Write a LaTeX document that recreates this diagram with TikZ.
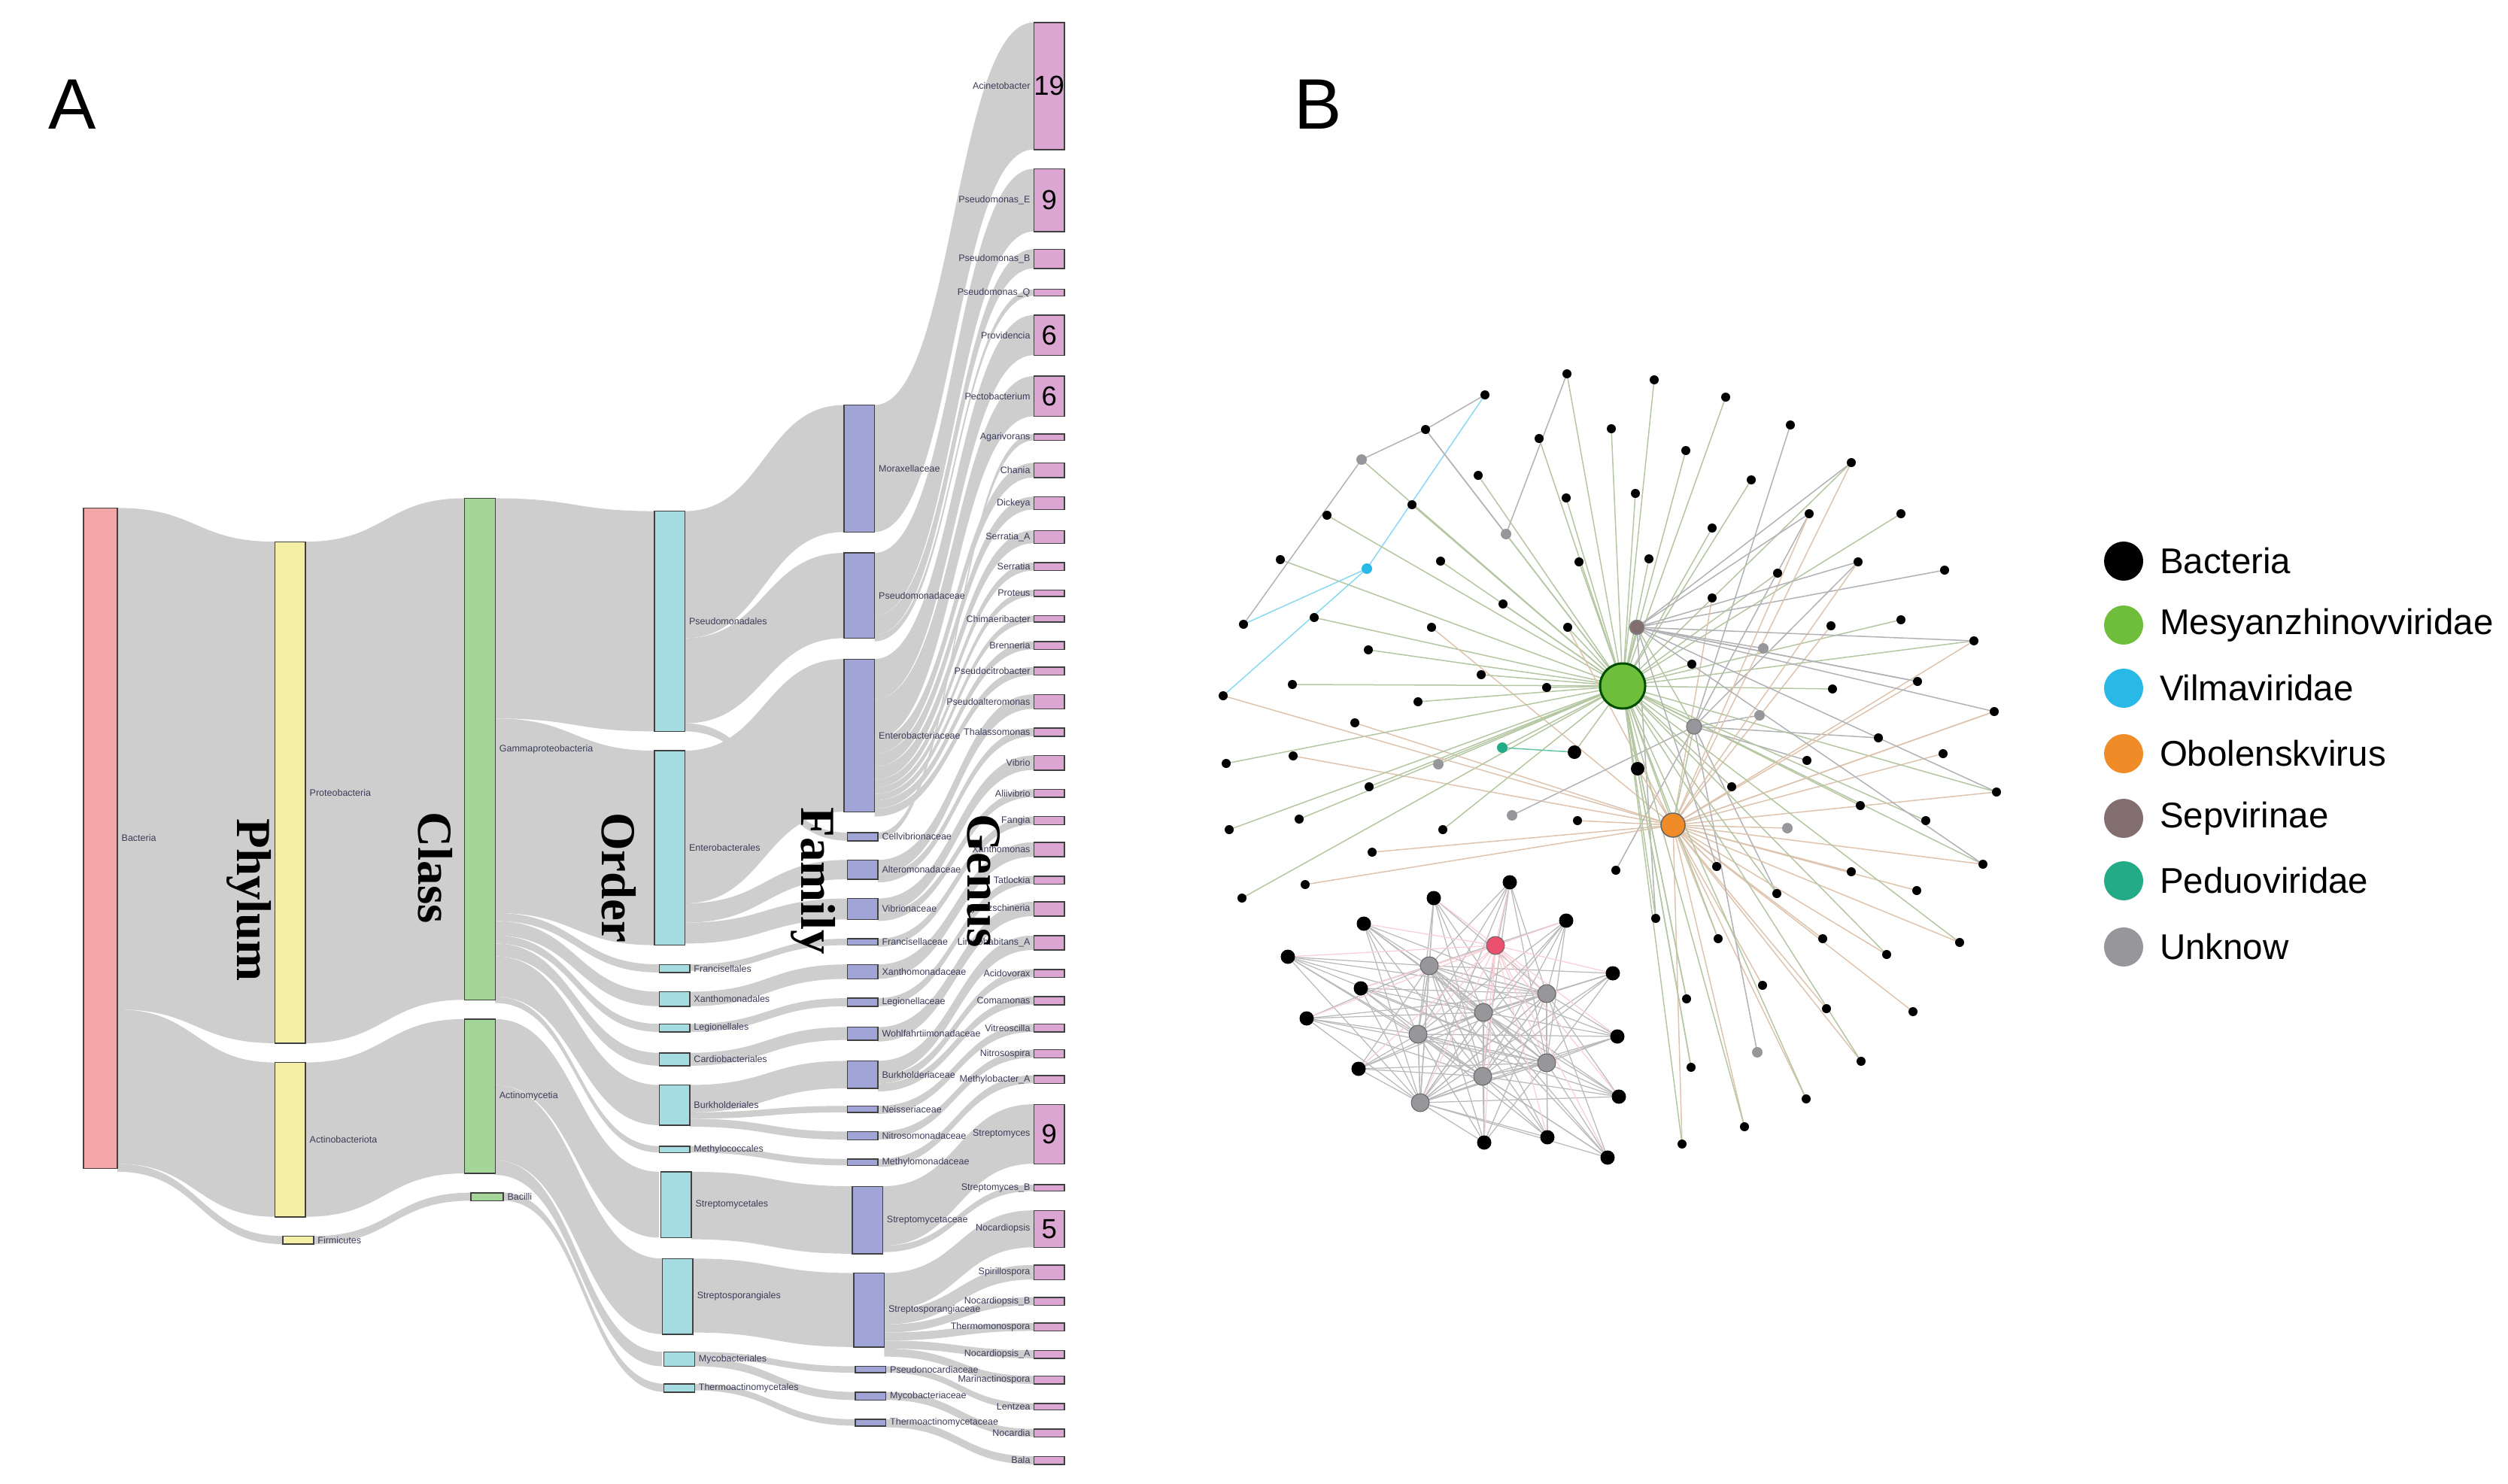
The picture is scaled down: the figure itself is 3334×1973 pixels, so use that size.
\documentclass[tikz,border=0pt]{standalone}
\usepackage{fontspec}
\setmainfont{Liberation Sans}
\newfontfamily\serifbig{Liberation Serif}
\usetikzlibrary{fit}
\definecolor{flowc}{RGB}{206,206,206}
\definecolor{cBac}{RGB}{242,166,166}
\definecolor{cPhy}{RGB}{243,240,165}
\definecolor{cCla}{RGB}{163,214,152}
\definecolor{cOrd}{RGB}{164,220,226}
\definecolor{cFam}{RGB}{160,164,214}
\definecolor{cGen}{RGB}{220,166,210}
\definecolor{labc}{RGB}{60,60,90}
\definecolor{mesy}{RGB}{110,190,60}
\definecolor{vilm}{RGB}{40,185,230}
\definecolor{obol}{RGB}{240,140,40}
\definecolor{sepv}{RGB}{130,110,110}
\definecolor{pedu}{RGB}{35,170,135}
\definecolor{unkn}{RGB}{150,150,155}
\definecolor{pinkn}{RGB}{235,80,110}
\definecolor{eg}{RGB}{180,198,162}
\definecolor{eo}{RGB}{222,196,175}
\definecolor{eh}{RGB}{178,178,182}
\newcommand\setsrc[2]{\xdef\SX{#1}\xdef\SY{#2}}
\newcommand\fl[3]{\pgfmathsetmacro\SYb{\SY+#3-#2}\pgfmathsetmacro\MX{(\SX+#1)/2}%
 \fill[flowc] (\SX,\SY) .. controls (\MX,\SY) and (\MX,#2) .. (#1,#2) -- (#1,#3) .. controls (\MX,#3) and (\MX,\SYb) .. (\SX,\SYb) -- cycle;\xdef\SY{\SYb}}
\newcommand\rbox[6]{\node[box,fill=#6,fit={(#2,#3)(#4,#5)}] (#1) {};}
\newcommand\rboxr[7]{\rbox{#1}{#2}{#3}{#4}{#5}{#6}\node[lab,anchor=west] at ({#4+1.5},{(#3+#5)/2}) {#7};}
\newcommand\gbox[4]{\rbox{#1}{643}{#2}{662}{#3}{cGen}\node[lab,anchor=east] at (642,{(#2+#3)/2}) {#4};}
\begin{document}
\begin{tikzpicture}[x=0.2pt,y=-0.2pt,
 box/.style={draw=black!75,line width=0.3pt,inner sep=0pt},
 lab/.style={font=\fontsize{2.5}{3}\selectfont,text=labc,inner sep=0.3pt},
 big/.style={font=\serifbig\bfseries\fontsize{13}{13}\selectfont,rotate=-90,inner sep=0pt},
 num/.style={font=\fontsize{7.3}{8}\selectfont,inner sep=0pt},
 panel/.style={font=\fontsize{19}{20}\selectfont,inner sep=0pt},
 edge/.style={line width=0.3pt},
 eG/.style={eg}, eO/.style={eo}, eS/.style={eh}, eH/.style={eh}, eC/.style={vilm!55},
 cl/.style={line width=0.25pt,black!27},
 cp/.style={line width=0.25pt,pinkn!28},
 leaf/.style={circle,fill=black,inner sep=0pt,minimum size=2.4pt},
 leg/.style={font=\fontsize{9.5}{11}\selectfont,anchor=west,inner sep=0pt}]
\useasboundingbox (0,0) rectangle (3334,1973);
\node[panel] (pA) at (96,139) {A};
\node[panel] (pB) at (1752,139) {B};
\begin{scope}[scale=2.137]
\setsrc{73}{316}
\fl{171}{337}{649}\fl{171}{661}{757}\fl{176}{769}{774}
\setsrc{190}{337}\fl{289}{310}{622}
\setsrc{190}{661}\fl{289}{634}{730}
\setsrc{195}{769}\fl{293}{742}{747}
\setsrc{308}{310}
\fl{407}{318}{455}\fl{407}{467}{588}\fl{410}{600}{605}\fl{410}{617}{626}\fl{410}{637}{642}\fl{410}{655}{663}\fl{410}{675}{700}\fl{410}{713}{717}
\setsrc{308}{634}
\fl{410}{729}{770}\fl{412}{783}{830}\fl{412}{841}{850}
\setsrc{313}{742}\fl{414}{861}{866}
\setsrc{426}{318}\fl{525}{252}{331}\fl{525}{344}{397}\fl{527}{518}{523}
\setsrc{426}{467}\fl{525}{410}{505}\fl{527}{535}{547}\fl{527}{559}{572}
\setsrc{429}{600}\fl{527}{584}{588}
\setsrc{429}{617}\fl{527}{600}{609}
\setsrc{429}{637}\fl{527}{621}{626}
\setsrc{429}{655}\fl{527}{639}{647}
\setsrc{429}{675}\fl{527}{660}{677}\fl{527}{688}{692}\fl{527}{704}{709}
\setsrc{429}{713}\fl{527}{721}{725}
\setsrc{430}{729}\fl{530}{738}{780}
\setsrc{431}{783}\fl{531}{792}{838}
\setsrc{432}{841}\fl{532}{850}{854}\fl{532}{866}{871}
\setsrc{432}{861}\fl{532}{883}{887}
\setsrc{544}{252}\fl{643}{14}{93}
\setsrc{544}{344}\fl{643}{105}{144}\fl{643}{155}{167}\fl{643}{180}{184}
\setsrc{544}{410}\fl{643}{196}{221}\fl{643}{234}{259}\fl{643}{288}{297}\fl{643}{309}{317}\fl{643}{330}{338}\fl{643}{350}{355}\fl{643}{367}{371}\fl{643}{383}{387}\fl{643}{399}{404}\fl{643}{415}{420}
\setsrc{546}{518}\fl{643}{270}{274}
\setsrc{546}{535}\fl{643}{432}{441}\fl{643}{453}{458}
\setsrc{546}{559}\fl{643}{470}{479}\fl{643}{491}{496}
\setsrc{546}{584}\fl{643}{508}{513}
\setsrc{546}{600}\fl{643}{524}{533}
\setsrc{546}{621}\fl{643}{545}{550}
\setsrc{546}{639}\fl{643}{561}{570}
\setsrc{546}{660}\fl{643}{582}{591}\fl{643}{603}{608}\fl{643}{620}{625}
\setsrc{546}{688}\fl{643}{637}{642}
\setsrc{546}{704}\fl{643}{653}{658}
\setsrc{546}{721}\fl{643}{669}{674}
\setsrc{549}{738}\fl{643}{687}{724}\fl{643}{737}{741}
\setsrc{550}{792}\fl{643}{753}{776}\fl{643}{787}{796}\fl{643}{807}{812}\fl{643}{823}{828}\fl{643}{840}{845}\fl{643}{856}{861}
\setsrc{551}{850}\fl{643}{873}{877}
\setsrc{551}{866}\fl{643}{889}{894}
\setsrc{551}{883}\fl{643}{906}{911}
\rboxr{bac}{52}{316}{73}{727}{cBac}{Bacteria}
\rboxr{p1}{171}{337}{190}{649}{cPhy}{Proteobacteria}
\rboxr{p2}{171}{661}{190}{757}{cPhy}{Actinobacteriota}
\rboxr{p3}{176}{769}{195}{774}{cPhy}{Firmicutes}
\rboxr{c1}{289}{310}{308}{622}{cCla}{Gammaproteobacteria}
\rboxr{c2}{289}{634}{308}{730}{cCla}{Actinomycetia}
\rboxr{c3}{293}{742}{313}{747}{cCla}{Bacilli}
\rboxr{o1}{407}{318}{426}{455}{cOrd}{Pseudomonadales}
\rboxr{o2}{407}{467}{426}{588}{cOrd}{Enterobacterales}
\rboxr{o3}{410}{600}{429}{605}{cOrd}{Francisellales}
\rboxr{o4}{410}{617}{429}{626}{cOrd}{Xanthomonadales}
\rboxr{o5}{410}{637}{429}{642}{cOrd}{Legionellales}
\rboxr{o6}{410}{655}{429}{663}{cOrd}{Cardiobacteriales}
\rboxr{o7}{410}{675}{429}{700}{cOrd}{Burkholderiales}
\rboxr{o8}{410}{713}{429}{717}{cOrd}{Methylococcales}
\rboxr{o9}{411}{729}{430}{770}{cOrd}{Streptomycetales}
\rboxr{o10}{412}{783}{431}{830}{cOrd}{Streptosporangiales}
\rboxr{o11}{413}{841}{432}{850}{cOrd}{Mycobacteriales}
\rboxr{o12}{413}{861}{432}{866}{cOrd}{Thermoactinomycetales}
\rboxr{f1}{525}{252}{544}{331}{cFam}{Moraxellaceae}
\rboxr{f2}{525}{344}{544}{397}{cFam}{Pseudomonadaceae}
\rboxr{f3}{525}{410}{544}{505}{cFam}{Enterobacteriaceae}
\rboxr{f4}{527}{518}{546}{523}{cFam}{Cellvibrionaceae}
\rboxr{f5}{527}{535}{546}{547}{cFam}{Alteromonadaceae}
\rboxr{f6}{527}{559}{546}{572}{cFam}{Vibrionaceae}
\rboxr{f7}{527}{584}{546}{588}{cFam}{Francisellaceae}
\rboxr{f8}{527}{600}{546}{609}{cFam}{Xanthomonadaceae}
\rboxr{f9}{527}{621}{546}{626}{cFam}{Legionellaceae}
\rboxr{f10}{527}{639}{546}{647}{cFam}{Wohlfahrtiimonadaceae}
\rboxr{f11}{527}{660}{546}{677}{cFam}{Burkholderiaceae}
\rboxr{f12}{527}{688}{546}{692}{cFam}{Neisseriaceae}
\rboxr{f13}{527}{704}{546}{709}{cFam}{Nitrosomonadaceae}
\rboxr{f14}{527}{721}{546}{725}{cFam}{Methylomonadaceae}
\rboxr{f15}{530}{738}{549}{780}{cFam}{Streptomycetaceae}
\rboxr{f16}{531}{792}{550}{838}{cFam}{Streptosporangiaceae}
\rboxr{f17}{532}{850}{551}{854}{cFam}{Pseudonocardiaceae}
\rboxr{f18}{532}{866}{551}{871}{cFam}{Mycobacteriaceae}
\rboxr{f19}{532}{883}{551}{887}{cFam}{Thermoactinomycetaceae}
\gbox{g1}{14}{93}{Acinetobacter}
\gbox{g2}{105}{144}{Pseudomonas\_E}
\gbox{g3}{155}{167}{Pseudomonas\_B}
\gbox{g4}{180}{184}{Pseudomonas\_Q}
\gbox{g5}{196}{221}{Providencia}
\gbox{g6}{234}{259}{Pectobacterium}
\gbox{g7}{270}{274}{Agarivorans}
\gbox{g8}{288}{297}{Chania}
\gbox{g9}{309}{317}{Dickeya}
\gbox{g10}{330}{338}{Serratia\_A}
\gbox{g11}{350}{355}{Serratia}
\gbox{g12}{367}{371}{Proteus}
\gbox{g13}{383}{387}{Chimaeribacter}
\gbox{g14}{399}{404}{Brenneria}
\gbox{g15}{415}{420}{Pseudocitrobacter}
\gbox{g16}{432}{441}{Pseudoalteromonas}
\gbox{g17}{453}{458}{Thalassomonas}
\gbox{g18}{470}{479}{Vibrio}
\gbox{g19}{491}{496}{Aliivibrio}
\gbox{g20}{508}{513}{Fangia}
\gbox{g21}{524}{533}{Xanthomonas}
\gbox{g22}{545}{550}{Tatlockia}
\gbox{g23}{561}{570}{Ignatzschineria}
\gbox{g24}{582}{591}{Limnohabitans\_A}
\gbox{g25}{603}{608}{Acidovorax}
\gbox{g26}{620}{625}{Comamonas}
\gbox{g27}{637}{642}{Vitreoscilla}
\gbox{g28}{653}{658}{Nitrosospira}
\gbox{g29}{669}{674}{Methylobacter\_A}
\gbox{g30}{687}{724}{Streptomyces}
\gbox{g31}{737}{741}{Streptomyces\_B}
\gbox{g32}{753}{776}{Nocardiopsis}
\gbox{g33}{787}{796}{Spirillospora}
\gbox{g34}{807}{812}{Nocardiopsis\_B}
\gbox{g35}{823}{828}{Thermomonospora}
\gbox{g36}{840}{845}{Nocardiopsis\_A}
\gbox{g37}{856}{861}{Marinactinospora}
\gbox{g38}{873}{877}{Lentzea}
\gbox{g39}{889}{894}{Nocardia}
\gbox{g40}{906}{911}{Bala}
\node[num] at (g1) {19};
\node[num] at (g2) {9};
\node[num] at (g5) {6};
\node[num] at (g6) {6};
\node[num] at (g30) {9};
\node[num] at (g32) {5};
\node[big] (tPhy) at (155,560) {Phylum};
\node[big] (tCla) at (271,540) {Class};
\node[big] (tOrd) at (385,546) {Order};
\node[big] (tFam) at (506,548) {Family};
\node[big] (tGen) at (612,548) {Genus};
\end{scope}
% ---------- network ----------
\coordinate (G) at (2157,912);
\coordinate (O) at (2224,1097);
\coordinate (S) at (2176,834);
\coordinate (H) at (2252,966);
\coordinate (C) at (1817,756);
\coordinate (T) at (1997,994);
\def\leaves{2083/497/G,1974/525/C,1895/571/G,2046/583/G,2142/570/G,1965/632/G,2082/662/G,1877/671/G,1764/685/G,1702/744/G,1915/746/G,2099/747/G,1998/803/G,1653/830/C,1747/821/G,1903/834/O,2084/834/G,1819/864/G,1969/897/G,1718/910/G,2056/914/G,1626/925/C,1885/933/G,1801/961/O,1630/1015/G,1719/1005/O,2199/505/G,2294/528/G,2380/565/H,2241/599/G,2461/615/G,2174/656/G,2328/638/G,2405/683/H,2527/683/G,2276/702/G,2192/743/G,2470/747/H,2585/758/S,2363/762/G,2276/795/O,2527/824/G,2434/832/O,2624/852/G,2249/883/G,2549/906/S,2436/916/G,2651/946/O,2497/981/H,2402/1011/H,2583/1002/O,2302/1046/G,2654/1053/G,2473/1071/G,2560/1091/G,2636/1149/G,2282/1152/O,2461/1159/O,2548/1184/O,2362/1188/H,2201/1221/S,2284/1248/O,2423/1248/O,2605/1253/O,2508/1269/O,2343/1310/O,2242/1328/G,2428/1341/O,2543/1345/O,2474/1411/O,2248/1419/G,2401/1461/O,2319/1498/O,2236/1521/O,2148/1157/H,1820/1046/G,1634/1103/G,1727/1089/G,1918/1103/G,2097/1091/O,1824/1133/O,1735/1176/O,1651/1194/G}
\def\grays{1810/611/G,2002/710/G,1912/1016/G,2344/862/S,2339/951/H,2376/1101/O,2336/1399/H,2010/1084/H}
\foreach \x/\y/\h [count=\i] in \leaves {\coordinate (L\i) at (\x,\y); \draw[edge,e\h] (\h) -- (L\i);}
\foreach \x/\y/\h [count=\i] in \grays {\coordinate (U\i) at (\x,\y); \draw[edge,e\h] (\h) -- (U\i);}
\coordinate (BB1) at (2093,1000);
\coordinate (BB2) at (2177,1022);
\draw[edge,eg] (G) -- (O) (G) -- (S) (G) -- (H) (G) -- (T) (G) -- (BB1) (G) -- (BB2) (O) -- (H) (S) -- (H);
\draw[edge,pedu!70] (T) -- (BB1);
\draw[edge,eh] (U1) -- (L3) (U1) -- (L14) (L2) -- (L3) (U2) -- (L1) (U2) -- (L3);
\draw[edge,eo] (O) -- (BB2) (O) -- (L17) (O) -- (L22);
\foreach \k in {31,34,38,44,46,48,53,56,57} {\draw[edge,eh] (S) -- (L\k); \draw[edge,eo] (O) -- (L\k);}
\foreach \k in {60,61,62,64,65,67,70,71,72,73,74} {\draw[edge,eg] (G) -- (L\k);}
% cluster
\def\clusb{2007/1173,1906/1194,1813/1228,2082/1224,1712/1272,2144/1294,1809/1314,1737/1354,2150/1378,1806/1421,2152/1458,1973/1519,2057/1512,2137/1539}
\def\clusu{1900/1284,2056/1321,1972/1346,1885/1375,2056/1413,1971/1431,1888/1466}
\coordinate (KP) at (1988,1257);
\foreach \x/\y [count=\i] in \clusb {\coordinate (KB\i) at (\x,\y);}
\foreach \x/\y [count=\i] in \clusu {\coordinate (KU\i) at (\x,\y);}
\foreach \a in {1,...,7} {
  \foreach \b in {1,...,14} {\draw[cl] (KU\a) -- (KB\b);}
  \foreach \b in {1,...,7} {\draw[cl] (KU\a) -- (KU\b);}
  \draw[cp] (KP) -- (KU\a);}
\foreach \b in {1,...,14} {\draw[cp] (KP) -- (KB\b);}
% nodes
\foreach \x/\y/\h [count=\i] in \leaves {\node[leaf] (nL\i) at (L\i) {};}
\foreach \x/\y/\h [count=\i] in \grays {\node[circle,fill=unkn,inner sep=0pt,minimum size=2.8pt] (nU\i) at (U\i) {};}
\node[leaf,minimum size=3.6pt] (nBB1) at (BB1) {};
\node[leaf,minimum size=3.6pt] (nBB2) at (BB2) {};
\foreach \x/\y [count=\i] in \clusb {\node[leaf,minimum size=3.8pt] (nKB\i) at (KB\i) {};}
\foreach \x/\y [count=\i] in \clusu {\node[circle,fill=unkn,draw=black!60,line width=0.2pt,inner sep=0pt,minimum size=4.8pt] (nKU\i) at (KU\i) {};}
\node[circle,fill=pinkn,draw=black!60,line width=0.2pt,inner sep=0pt,minimum size=4.8pt] (nKP) at (KP) {};
\node[circle,fill=mesy,draw=black!70!green,line width=0.6pt,inner sep=0pt,minimum size=12pt] (nG) at (G) {};
\node[circle,fill=obol,draw=black!60,line width=0.3pt,inner sep=0pt,minimum size=6.4pt] (nO) at (O) {};
\node[circle,fill=sepv,draw=black!50,line width=0.3pt,inner sep=0pt,minimum size=3.8pt] (nS) at (S) {};
\node[circle,fill=unkn,draw=black!50,line width=0.3pt,inner sep=0pt,minimum size=4pt] (nH) at (H) {};
\node[circle,fill=vilm,inner sep=0pt,minimum size=2.8pt] (nC) at (C) {};
\node[circle,fill=pedu,inner sep=0pt,minimum size=2.8pt] (nT) at (T) {};
% legend
\foreach \c/\t/\y [count=\i] in {black/Bacteria/746,mesy/Mesyanzhinovviridae/831,vilm/Vilmaviridae/915,obol/Obolenskvirus/1002,sepv/Sepvirinae/1088,pedu/Peduoviridae/1171,unkn/Unknow/1259} {
  \node[circle,fill=\c,inner sep=0pt,minimum size=10.4pt] (lg\i) at (2823,\y) {};
  \node[leg] (lt\i) at (2870,\y) {\t};}
\end{tikzpicture}
\end{document}
